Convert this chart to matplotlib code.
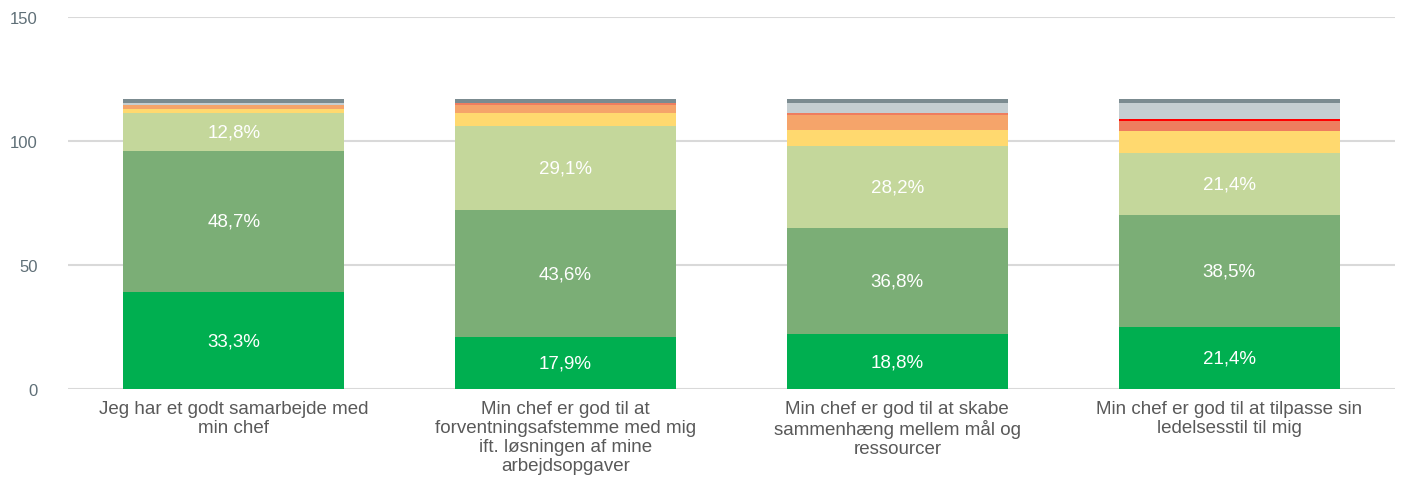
import matplotlib
matplotlib.use("Agg")
import matplotlib.pyplot as plt
import numpy as np

plt.rcParams['font.family'] = ['Liberation Sans', 'DejaVu Sans']

categories = [
    "Jeg har et godt samarbejde med\nmin chef",
    "Min chef er god til at\nforventningsafstemme med mig\nift. løsningen af mine\narbejdsopgaver",
    "Min chef er god til at skabe\nsammenhæng mellem mål og\nressourcer",
    "Min chef er god til at tilpasse sin\nledelsesstil til mig",
]
n_resp = 117

# stacked bottom -> top
dark_green = [39, 21, 22, 25]
mid_green = [57, 51, 43, 45]
light_green = [15, 34, 33, 25]
yellow = [1.9, 5.0, 6.5, 8.8]
orange = [1.7, 3.3, 5.8, 0.0]
red_orange = [0.0, 1.0, 0.8, 4.1]
red = [0.0, 0.0, 0.0, 0.8]
light_gray = [0.7, 0.0, 4.1, 6.6]
dark_gray = [1.6, 1.6, 1.6, 1.6]

series = [
    (dark_green, "#00AF50", True),
    (mid_green, "#7BAE76", True),
    (light_green, "#C4D79B", True),
    (yellow, "#FFD96F", False),
    (orange, "#F5A46A", False),
    (red_orange, "#EE7D5F", False),
    (red, "#FF0000", False),
    (light_gray, "#C5CED1", False),
    (dark_gray, "#7B8B90", False),
]

fig = plt.figure(figsize=(14.04, 4.81), dpi=100)
ax = fig.add_axes([0.0484, 0.1892, 0.9452, 0.774])

x = np.arange(len(categories))
bottom = np.zeros(len(categories))
for vals, color, labelled in series:
    vals = np.array(vals, dtype=float)
    ax.bar(x, vals, 0.666, bottom=bottom, color=color, linewidth=0, zorder=3)
    if labelled:
        for xi, v, b in zip(x, vals, bottom):
            pct = f"{v / n_resp * 100:.1f}%".replace(".", ",")
            ax.text(xi, b + v / 2, pct, ha='center', va='center', color='white', fontsize=13.5, zorder=4)
    bottom += vals

ax.set_xlim(-0.5, len(categories) - 0.5)
ax.set_ylim(0, 150)
ax.set_yticks([0, 50, 100, 150])
ax.yaxis.grid(True, color="#D9D9D9", linewidth=1.5, zorder=0)
ax.set_axisbelow(True)
for s in ax.spines.values():
    s.set_visible(False)
ax.tick_params(axis='y', length=0, pad=22, labelsize=12, labelcolor="#5F6F77")
ax.tick_params(axis='x', length=0, pad=8, labelsize=13.5, labelcolor="#595959")
ax.set_xticks(x)
ax.set_xticklabels(categories, linespacing=1.15, va='top')

fig.savefig("out.png", dpi=100)
